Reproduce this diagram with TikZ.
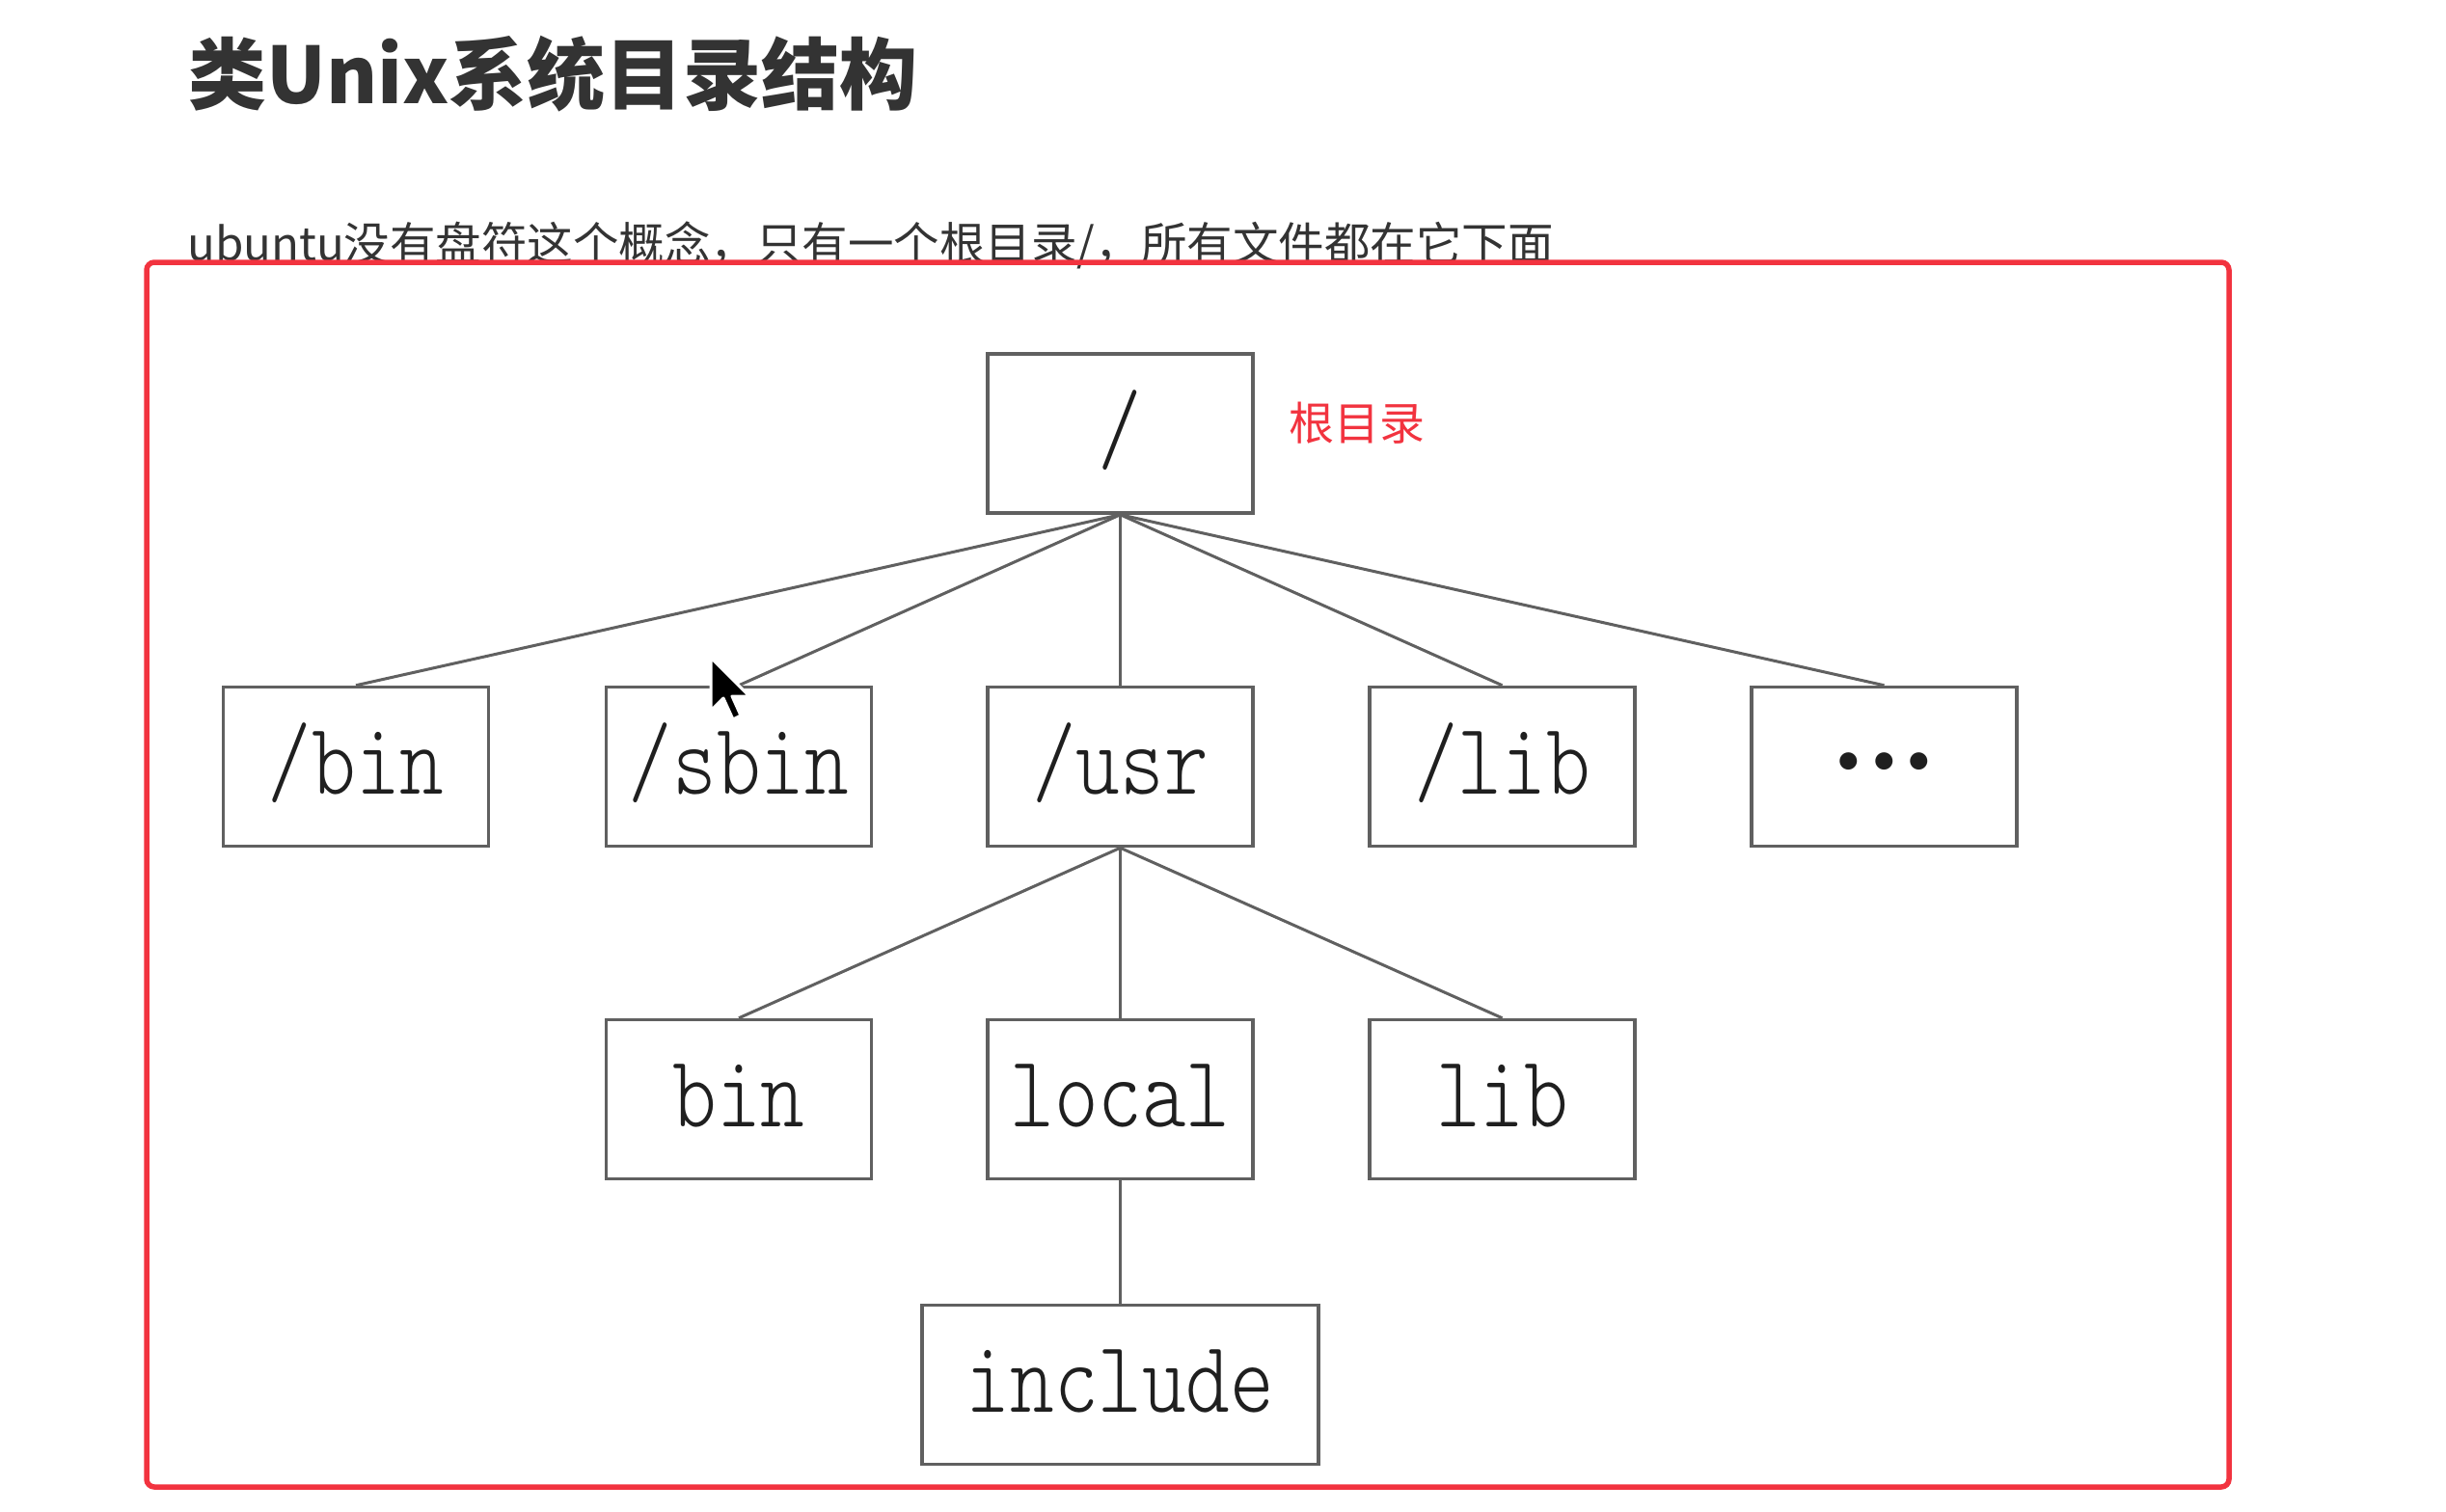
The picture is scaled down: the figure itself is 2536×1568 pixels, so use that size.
\documentclass[tikz,border=0pt]{standalone}
\usepackage{fontspec}
\newfontfamily\cjk{Noto Sans CJK SC}
\newfontfamily\dirfont[FakeStretch=0.82]{lmmonolt10-regular.otf}
\usetikzlibrary{positioning}
\definecolor{boxred}{HTML}{F2333F}
\definecolor{textgray}{HTML}{333333}
\definecolor{linegray}{HTML}{606060}
\tikzset{
  dirbox/.style={draw=linegray, line width=3.5pt, minimum width=275pt, minimum height=165pt,
    inner sep=0pt, text height=65pt, text depth=8pt, text=black!88,
    font=\dirfont\fontsize{106}{110}\selectfont},
  link/.style={draw=linegray, line width=3pt}
}
\begin{document}
\begin{tikzpicture}[x=1pt, y=-1pt]
    \useasboundingbox (0,0) rectangle (2536,1568);
    \fill[white] (0,0) rectangle (2536,1568);

    % heading and intro line
    \node[anchor=base west, inner sep=0pt, text=textgray,
      font=\cjk\bfseries\fontsize{81}{90}\selectfont] (title) at (195,108) {类Unix系统目录结构};
    \node[anchor=base west, inner sep=0pt, text=textgray,
      font=\cjk\fontsize{47.5}{50}\selectfont] (intro) at (194,270)
      {ubuntu没有盘符这个概念，只有一个根目录/，所有文件都在它下面};
    \fill[white] (191,279) rectangle (2300,1538);

    % directory tree
    \node[dirbox] (root) at (1161.5,449.5) {/};

    \node[dirbox] (bin) at (369,795) {/bin};
    \node[dirbox] (sbin) at (766,795) {/sbin};
    \node[dirbox] (usr) at (1161.5,795) {/usr};
    \node[dirbox] (lib) at (1557.5,795) {/lib};
    \node[dirbox] (more) at (1953.5,795) {\raisebox{5pt}{\scalebox{11.5}{\normalsize\boldmath${\cdotp}{\cdotp}{\cdotp}$}}};

    \node[dirbox] (ubin) at (766,1140) {bin};
    \node[dirbox] (local) at (1161.5,1140) {local};
    \node[dirbox] (ulib) at (1557.5,1140) {lib};

    \node[dirbox, minimum width=411pt] (include) at (1161.5,1436) {include};

    \foreach \kid in {bin,sbin,usr,lib,more}
      {
        \draw[link] (root.south) -- (\kid.north);
      }
    \foreach \kid in {ubin,local,ulib}
      {
        \draw[link] (usr.south) -- (\kid.north);
      }
    \draw[link] (local.south) -- (include.north);

    \node[right=36pt of root, yshift=11pt, inner sep=0pt, text=boxred,
      font=\cjk\fontsize{47}{50}\selectfont] (rootnote) {根目录};

    % mouse pointer
    \filldraw[fill=black, draw=white, line width=3pt, line join=round]
      (737,682) -- ++(0,55) -- ++(13,-13) -- ++(10,22) -- ++(8,-4) -- ++(-9,-20) -- ++(18,0) -- cycle;

    % red frame
    \draw[boxred, line width=5.5pt, rounded corners=8pt] (152,272) rectangle (2311,1542);
\end{tikzpicture}
\end{document}
